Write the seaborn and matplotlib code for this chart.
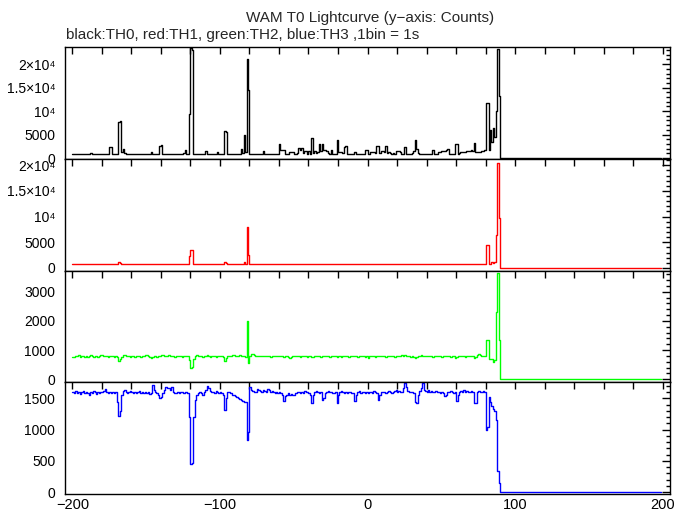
import numpy as np
import matplotlib
matplotlib.use("Agg")
import matplotlib.pyplot as plt
from matplotlib.ticker import MultipleLocator
import pandas as pd
import seaborn as sns

# WAM T0 lightcurve, 1 s bins starting at -200 s (counts per bin)
start_time = -200

th0_counts = [
    880, 870, 860, 880, 870, 890, 860, 870, 880, 870,
    860, 880, 1000, 870, 860, 880, 870, 860, 870, 880,
    870, 860, 880, 870, 900, 2400, 2300, 900, 870, 880,
    900, 7600, 7800, 1200, 1900, 1000, 880, 870, 860, 870,
    870, 880, 860, 870, 880, 870, 860, 880, 870, 860,
    880, 870, 860, 1300, 870, 880, 860, 870, 880, 2600,
    2700, 900, 870, 860, 880, 870, 860, 880, 870, 860,
    870, 880, 860, 870, 870, 1000, 1700, 880, 870, 9300,
    23500, 23000, 900, 870, 880, 860, 870, 880, 870, 870,
    1500, 880, 870, 860, 870, 880, 870, 860, 1200, 880,
    870, 880, 870, 5700, 5500, 900, 870, 880, 860, 870,
    870, 880, 860, 900, 1950, 1000, 4900, 1200, 21000, 14400,
    900, 880, 860, 870, 880, 870, 860, 880, 870, 1400,
    870, 880, 860, 870, 880, 870, 860, 880, 870, 860,
    3000, 1750, 1750, 1700, 900, 880, 870, 1300, 1200, 1300,
    900, 880, 1000, 2100, 1800, 2100, 1000, 1600, 1500, 870,
    1500, 900, 4200, 1000, 1400, 1100, 1300, 3000, 1500, 3000,
    1700, 1700, 1600, 1000, 950, 1700, 900, 880, 870, 3900,
    1200, 1300, 1200, 1100, 2400, 2500, 880, 870, 860, 870,
    880, 1200, 870, 860, 880, 870, 860, 880, 1700, 1700,
    870, 880, 1300, 1300, 1300, 1000, 2600, 2600, 1000, 1400,
    1400, 1300, 2500, 1000, 1200, 1000, 880, 1100, 900, 1400,
    1500, 1500, 1300, 880, 870, 2300, 900, 880, 870, 880,
    1000, 1500, 3900, 2000, 1100, 880, 870, 860, 880, 870,
    870, 880, 860, 870, 1700, 870, 880, 860, 1200, 1200,
    1500, 1400, 1500, 1800, 1900, 870, 880, 860, 880, 2900,
    2900, 900, 1000, 1300, 1200, 1300, 1200, 1400, 1500, 1600,
    1700, 1600, 3200, 1200, 1300, 1200, 1300, 1500, 1600, 1700,
    11800, 11800, 1800, 6000, 3500, 6500, 4500, 10000, 23300, 13300,
]

th1_counts = [
    760, 750, 770, 760, 740, 770, 760, 750, 760, 770,
    750, 760, 770, 760, 750, 740, 760, 770, 760, 750,
    760, 770, 750, 760, 760, 780, 770, 760, 750, 760,
    770, 1100, 1000, 780, 800, 760, 750, 760, 770, 760,
    750, 760, 770, 760, 750, 760, 770, 750, 760, 760,
    770, 760, 750, 760, 770, 760, 750, 760, 770, 790,
    780, 760, 750, 760, 770, 760, 750, 760, 770, 760,
    750, 760, 770, 760, 750, 770, 790, 760, 750, 2300,
    3500, 3500, 800, 760, 750, 760, 770, 760, 750, 760,
    800, 760, 750, 770, 760, 750, 760, 770, 760, 750,
    760, 770, 750, 1200, 900, 760, 750, 760, 770, 760,
    750, 760, 770, 760, 800, 760, 1100, 800, 7900, 2500,
    770, 760, 750, 760, 770, 760, 750, 760, 770, 760,
    750, 760, 770, 760, 750, 760, 770, 760, 750, 760,
    800, 780, 770, 760, 750, 760, 770, 760, 750, 760,
    760, 770, 750, 780, 770, 790, 760, 760, 770, 750,
    770, 760, 850, 760, 770, 760, 750, 790, 770, 800,
    770, 760, 770, 750, 760, 780, 760, 750, 760, 850,
    760, 770, 760, 750, 790, 780, 760, 750, 760, 770,
    760, 750, 760, 770, 760, 750, 760, 770, 780, 770,
    760, 750, 770, 760, 760, 750, 790, 780, 760, 770,
    760, 770, 790, 760, 750, 760, 770, 760, 750, 760,
    770, 760, 750, 760, 770, 780, 760, 750, 760, 770,
    760, 770, 820, 780, 760, 750, 760, 770, 760, 750,
    760, 770, 760, 750, 780, 760, 770, 760, 750, 760,
    770, 760, 780, 790, 780, 760, 750, 760, 770, 780,
    790, 760, 750, 760, 770, 760, 750, 760, 770, 780,
    780, 770, 820, 760, 750, 760, 770, 760, 780, 790,
    4400, 4400, 800, 850, 1200, 900, 1200, 6400, 20400, 9640,
]

th2_counts = [
    780, 760, 800, 790, 820, 770, 790, 810, 780, 800,
    770, 790, 820, 800, 780, 810, 790, 770, 800, 820,
    830, 810, 790, 800, 780, 810, 800, 790, 770, 800,
    780, 620, 680, 760, 840, 820, 800, 790, 810, 780,
    800, 790, 770, 800, 810, 790, 780, 800, 790, 820,
    850, 800, 780, 730, 760, 790, 800, 780, 810, 790,
    830, 850, 810, 790, 800, 820, 810, 800, 790, 780,
    800, 790, 810, 800, 780, 790, 810, 800, 790, 650,
    400, 420, 700, 800, 820, 790, 800, 810, 780, 800,
    790, 820, 800, 780, 810, 790, 800, 780, 810, 800,
    790, 800, 780, 620, 720, 790, 810, 800, 850, 830,
    810, 800, 790, 820, 800, 810, 790, 780, 2000, 550,
    790, 860, 870, 820, 800, 790, 810, 800, 790, 800,
    810, 800, 790, 800, 780, 810, 790, 800, 810, 790,
    800, 790, 810, 780, 800, 790, 770, 740, 780, 800,
    790, 800, 810, 790, 780, 800, 810, 790, 800, 780,
    790, 800, 780, 760, 800, 790, 810, 800, 780, 790,
    800, 810, 790, 800, 780, 790, 800, 810, 790, 780,
    800, 790, 780, 800, 810, 790, 800, 780, 790, 800,
    810, 800, 790, 780, 800, 810, 790, 800, 780, 790,
    730, 800, 810, 790, 800, 780, 790, 800, 810, 790,
    800, 790, 780, 800, 810, 800, 790, 800, 780, 790,
    800, 810, 800, 820, 800, 840, 810, 790, 800, 780,
    790, 760, 730, 780, 800, 810, 850, 800, 790, 810,
    800, 790, 810, 800, 780, 790, 800, 810, 790, 800,
    780, 790, 800, 810, 790, 800, 780, 790, 800, 740,
    760, 790, 800, 810, 790, 800, 780, 800, 810, 790,
    800, 790, 740, 780, 850, 860, 840, 800, 790, 800,
    1365, 1365, 700, 680, 700, 600, 650, 2310, 3650, 1340,
]

th3_counts = [
    1600, 1580, 1620, 1590, 1610, 1570, 1600, 1620, 1580, 1600,
    1590, 1550, 1610, 1580, 1620, 1600, 1570, 1600, 1590, 1610,
    1600, 1620, 1650, 1600, 1580, 1610, 1590, 1600, 1580, 1600,
    1450, 1220, 1300, 1560, 1620, 1640, 1610, 1590, 1600, 1620,
    1600, 1590, 1610, 1580, 1600, 1620, 1590, 1600, 1580, 1610,
    1590, 1600, 1570, 1580, 1720, 1640, 1600, 1590, 1560, 1500,
    1520, 1590, 1640, 1680, 1660, 1670, 1640, 1690, 1600, 1580,
    1590, 1600, 1580, 1610, 1600, 1590, 1600, 1610, 1590, 1200,
    450, 470, 1200, 1480, 1550, 1590, 1600, 1580, 1560, 1600,
    1640, 1700, 1660, 1620, 1610, 1600, 1590, 1620, 1600, 1590,
    1600, 1580, 1560, 1320, 1500, 1600, 1610, 1580, 1560, 1550,
    1540, 1520, 1500, 1490, 1470, 1460, 1440, 1440, 830, 970,
    1690, 1640, 1620, 1600, 1610, 1650, 1630, 1620, 1610, 1640,
    1620, 1600, 1650, 1630, 1600, 1620, 1610, 1590, 1600, 1580,
    1600, 1590, 1560, 1460, 1540, 1560, 1580, 1560, 1570, 1550,
    1560, 1580, 1600, 1610, 1590, 1600, 1580, 1620, 1600, 1610,
    1590, 1560, 1430, 1560, 1600, 1620, 1600, 1590, 1610, 1470,
    1500, 1580, 1600, 1620, 1610, 1600, 1580, 1590, 1600, 1430,
    1560, 1600, 1620, 1610, 1590, 1600, 1580, 1610, 1600, 1590,
    1580, 1460, 1560, 1600, 1620, 1590, 1600, 1610, 1580, 1600,
    1590, 1610, 1600, 1580, 1620, 1600, 1590, 1470, 1560, 1600,
    1610, 1600, 1580, 1600, 1620, 1610, 1590, 1600, 1620, 1630,
    1600, 1620, 1610, 1600, 1660, 1750, 1680, 1620, 1600, 1610,
    1600, 1580, 1450, 1430, 1560, 1620, 1660, 1750, 1640, 1620,
    1610, 1630, 1600, 1620, 1610, 1600, 1620, 1610, 1600, 1590,
    1600, 1580, 1540, 1560, 1600, 1610, 1620, 1600, 1590, 1600,
    1460, 1560, 1600, 1620, 1610, 1630, 1600, 1620, 1610, 1600,
    1620, 1600, 1420, 1430, 1600, 1620, 1610, 1600, 1620, 1600,
    1000, 1050, 1530, 1450, 1380, 1330, 1300, 1150, 335, 150,
]

# after the burst every band sits flat at zero until the end of the file
tail_times = [90, 199]
tail_counts = [0, 0]

band_names = ["TH0", "TH1", "TH2", "TH3"]
band_colors = ["black", "#ff0000", "#00ff00", "#0000ff"]
band_counts = [th0_counts, th1_counts, th2_counts, th3_counts]

ylims = [(-150, 23650), (-500, 21270), (-100, 3730), (-28, 1758)]
big_ticks = [0, 5000, 10000, 15000, 20000]
big_labels = ["0", "5000", "10\u2074", "1.5\u00d710\u2074", "2\u00d710\u2074"]
yticks = [big_ticks, big_ticks, [0, 1000, 2000, 3000], [0, 500, 1000, 1500]]
ylabels = [big_labels, big_labels, ["0", "1000", "2000", "3000"], ["0", "500", "1000", "1500"]]
yminor = [1000, 1000, 200, 100]

sns.set_theme(style="white")
plt.rcParams["font.family"] = ["Liberation Sans", "DejaVu Sans"]

fig, axes = plt.subplots(4, 1, sharex=True, figsize=(6.89, 5.15), dpi=100)
fig.subplots_adjust(left=65 / 689, right=670 / 689, top=1 - 47 / 515,
                    bottom=1 - 494 / 515, hspace=0)

for i, ax in enumerate(axes):
    counts = band_counts[i]
    times = list(np.arange(len(counts)) + start_time) + tail_times
    df = pd.DataFrame({"time": times, "counts": counts + tail_counts})
    sns.lineplot(data=df, x="time", y="counts", ax=ax, color=band_colors[i],
                 drawstyle="steps-post", lw=1.0, estimator=None, sort=False,
                 legend=False)
    ax.set_xlim(-205, 205)
    ax.set_ylim(*ylims[i])
    ax.set_yticks(yticks[i])
    ax.set_yticklabels(ylabels[i])
    ax.yaxis.set_minor_locator(MultipleLocator(yminor[i]))
    ax.xaxis.set_major_locator(MultipleLocator(100))
    ax.xaxis.set_minor_locator(MultipleLocator(20))
    ax.tick_params(which="both", direction="in", top=True, right=True,
                   width=1, colors="black")
    ax.tick_params(axis="y", which="major", length=6, labelsize=10, pad=7)
    ax.tick_params(axis="y", which="minor", length=3)
    ax.tick_params(axis="x", which="both", length=5, labelsize=10.5, pad=3)
    ax.set_xlabel("")
    ax.set_ylabel("")
    for sp in ax.spines.values():
        sp.set_color("black")
        sp.set_linewidth(1.0)

axes[-1].set_xticks([-200, -100, 0, 100, 200])

fig.text(370 / 689, 1 - 18 / 515, "WAM T0 Lightcurve (y\u2212axis: Counts)",
         ha="center", va="center", fontsize=11)
fig.text(66 / 689, 1 - 35 / 515,
         "black:TH0, red:TH1, green:TH2, blue:TH3 ,1bin = 1s",
         ha="left", va="center", fontsize=11)

plt.savefig("out.png", dpi=100)
